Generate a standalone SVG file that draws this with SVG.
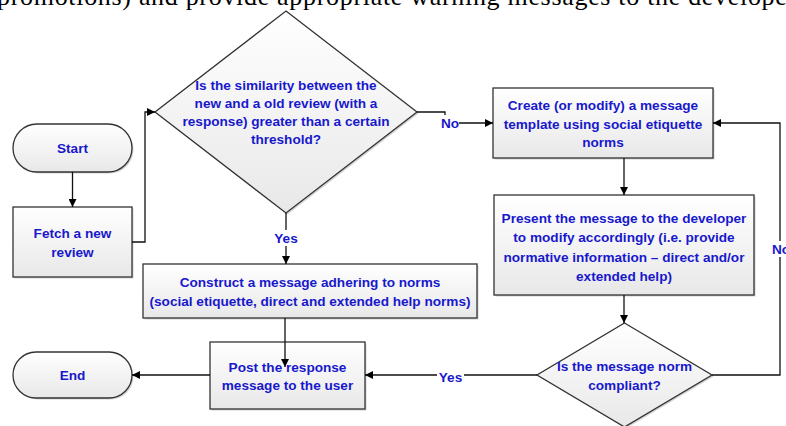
<svg xmlns="http://www.w3.org/2000/svg" width="786" height="426" viewBox="0 0 786 426">
<defs>
<linearGradient id="g" x1="0" y1="0" x2="0" y2="1">
<stop offset="0" stop-color="#ffffff"/>
<stop offset="1" stop-color="#e8e8e8"/>
</linearGradient>
<marker id="arr" viewBox="0 0 10 10" refX="10" refY="5" markerWidth="9" markerHeight="8" orient="auto" markerUnits="userSpaceOnUse">
<path d="M0,0 L10,5 L0,10 z" fill="#000"/>
</marker>
<style>
.shape{fill:url(#g);stroke:#333;stroke-width:1.3}
.shadow{fill:#d2d2d2}
.t{font-family:"Liberation Sans",Arial,sans-serif;font-weight:bold;font-size:13.6px;fill:#1818cc;text-anchor:middle}
.c{fill:none;stroke:#111;stroke-width:1.3;marker-end:url(#arr)}
.bg{fill:#fff}
.doc{font-family:"Liberation Serif","Times New Roman",serif;font-size:26px;fill:#000}
</style>
</defs>
<rect width="786" height="426" fill="#fff"/>
<text class="doc" x="-3" y="5" textLength="810" lengthAdjust="spacing">promotions) and provide appropriate warning messages to the developers</text>

<g id="start">
<rect class="shadow" x="14.5" y="125.5" width="119" height="48" rx="24"/>
<rect class="shape" x="13" y="124" width="119" height="48" rx="24"/>
<text class="t" x="72.5" y="153">Start</text>
</g>
<g id="fetch">
<rect class="shadow" x="14.5" y="208.5" width="119" height="70"/>
<rect class="shape" x="13" y="207" width="119" height="70"/>
<text class="t" x="72.5" y="238">Fetch a new</text>
<text class="t" x="72.5" y="257">review</text>
</g>
<g id="decision1">
<polygon class="shadow" points="287.5,12.5 418.5,113.5 287.5,214.5 156.5,113.5"/>
<polygon class="shape" points="286,11 417,112 286,213 155,112"/>
<text class="t" x="286" y="90">Is the similarity between the</text>
<text class="t" x="286" y="108">new and a old review (with a</text>
<text class="t" x="286" y="126">response) greater than a certain</text>
<text class="t" x="286" y="144">threshold?</text>
</g>
<g id="create">
<rect class="shadow" x="494.5" y="89.5" width="220" height="70"/>
<rect class="shape" x="493" y="88" width="220" height="70"/>
<text class="t" x="603" y="110">Create (or modify) a message</text>
<text class="t" x="603" y="128.5">template using social etiquette</text>
<text class="t" x="603" y="147">norms</text>
</g>
<g id="present">
<rect class="shadow" x="495.5" y="196.5" width="260" height="100"/>
<rect class="shape" x="494" y="195" width="260" height="100"/>
<text class="t" x="624" y="223">Present the message to the developer</text>
<text class="t" x="624" y="242">to modify accordingly (i.e. provide</text>
<text class="t" x="624" y="262">normative information – direct and/or</text>
<text class="t" x="624" y="281">extended help)</text>
</g>
<g id="decision2">
<polygon class="shadow" points="626,324.5 713.5,376.5 626,428.5 538.5,376.5"/>
<polygon class="shape" points="624.5,323 712,375 624.5,427 537,375"/>
<text class="t" x="624.5" y="371">Is the message norm</text>
<text class="t" x="624.5" y="390">compliant?</text>
</g>
<g id="construct">
<rect class="shadow" x="144.5" y="265.5" width="334" height="54"/>
<rect class="shape" x="143" y="264" width="334" height="54"/>
<text class="t" x="310" y="287">Construct a message adhering to norms</text>
<text class="t" x="310" y="306">(social etiquette, direct and extended help norms)</text>
</g>
<g id="post">
<rect class="shadow" x="211.5" y="343.5" width="155" height="67"/>
<rect class="shape" x="210" y="342" width="155" height="67"/>
<text class="t" x="287.5" y="372">Post the response</text>
<text class="t" x="287.5" y="390">message to the user</text>
</g>
<g id="end">
<rect class="shadow" x="14.5" y="353.5" width="119" height="46" rx="23"/>
<rect class="shape" x="13" y="352" width="119" height="46" rx="23"/>
<text class="t" x="72.5" y="380">End</text>
</g>

<g id="connectors">
<path class="c" d="M72.5,172 V207"/>
<path class="c" d="M132,242 H145 V112 H155"/>
<path class="c" d="M417,112 H445 V123 H493"/>
<rect class="bg" x="440" y="115" width="19" height="16"/>
<text class="t" x="450" y="128">No</text>
<path class="c" d="M286,213 V264"/>
<rect class="bg" x="272" y="230" width="28" height="16"/>
<text class="t" x="286" y="243">Yes</text>
<path class="c" d="M624,158 V195"/>
<path class="c" d="M624,295 V323"/>
<path class="c" d="M712,375 H780 V123 H713"/>
<rect class="bg" x="771" y="241" width="20" height="16"/>
<text class="t" x="781" y="254">No</text>
<path class="c" d="M537,375 H365"/>
<rect class="bg" x="437" y="369" width="27" height="16"/>
<text class="t" x="450.5" y="382">Yes</text>
<path class="c" d="M285,318 V367"/>
<path class="c" d="M210,375 H132"/>
</g>
</svg>
